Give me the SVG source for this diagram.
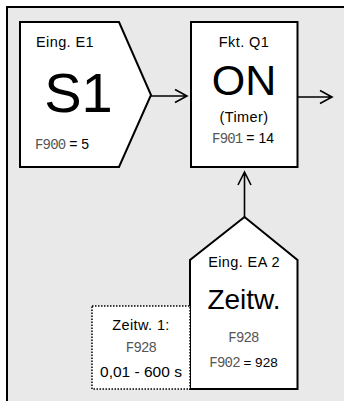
<svg xmlns="http://www.w3.org/2000/svg" width="344" height="401" viewBox="0 0 344 401">
<style>
.node{fill:#fff;stroke:#000;stroke-width:2}
.t{font-family:"Liberation Sans",Arial,sans-serif;fill:#000;text-anchor:middle}
.s{font-size:14.5px;letter-spacing:0.4px}
.seg{font-family:"Liberation Mono","DejaVu Sans Mono",monospace;fill:#555;font-size:14px;letter-spacing:-0.8px}
.conn{fill:none;stroke:#000;stroke-width:1.6}
</style>
<rect x="0" y="0" width="344" height="401" fill="#fff"/>
<rect x="8" y="8" width="336" height="393" fill="#e9e9e9"/>
<path d="M7,401 V7 H344" fill="none" stroke="#000" stroke-width="2"/>
<g id="connectors">
<path class="conn" d="M151,96 H187 M175,89.5 L187,96 L175,102.5"/>
<path class="conn" d="M298,97 H332 M320,90.5 L332,97 L320,103.5"/>
<path class="conn" d="M244.5,217 V172 M238,185 L244.5,172 L251,185"/>
</g>
<g id="node-e1">
<polygon class="node" points="20,22 119,22 151,95 119,167 20,167"/>
<text class="t s" x="65" y="47" >Eing. E1</text>
<text class="t" x="78.5" y="111.5" font-size="56">S1</text>
<text x="35" y="148.5" font-size="14" font-family="Liberation Sans,Arial,sans-serif"><tspan class="seg">F900</tspan> = 5</text>
</g>
<g id="node-q1">
<rect class="node" x="191" y="22" width="106.5" height="145"/>
<text class="t s" x="244" y="47">Fkt. Q1</text>
<text class="t" x="244" y="95" font-size="43">ON</text>
<text class="t s" x="244" y="121.5">(Timer)</text>
<text class="t" x="243" y="143" font-size="14"><tspan class="seg">F901</tspan> = 14</text>
</g>
<g id="node-ea2">
<polygon class="node" points="244.5,217 297.5,260 297.5,389 190,389 190,260"/>
<text class="t s" x="244" y="266.5">Eing. EA 2</text>
<text class="t" x="244" y="308.5" font-size="28">Zeitw.</text>
<text class="t seg" x="243.5" y="341.5" style="text-anchor:middle">F928</text>
<text class="t" x="243.5" y="366.5" font-size="13.5"><tspan class="seg">F902</tspan> = 928</text>
</g>
<g id="node-zeitw1">
<rect x="92" y="306" width="98" height="83" fill="#fff" stroke="#000" stroke-width="1.5" stroke-dasharray="1.5,1.5"/>
<text class="t s" x="141" y="330">Zeitw. 1:</text>
<text class="t seg" x="141" y="351.5" style="text-anchor:middle">F928</text>
<text class="t" x="141" y="376.5" font-size="15.5">0,01 - 600 s</text>
</g>
</svg>
